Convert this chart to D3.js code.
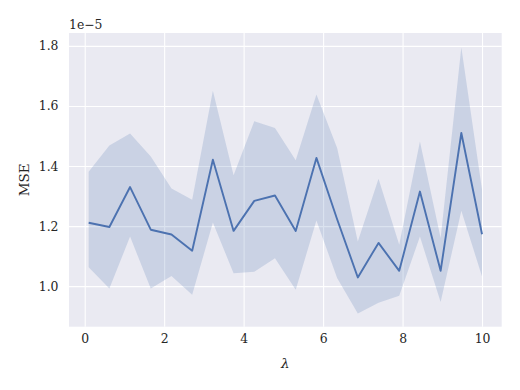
<!DOCTYPE html>
<html>
<head>
<meta charset="utf-8">
<script src="https://cdn.jsdelivr.net/npm/d3@7"></script>
<style>
  body { margin: 0; background: #fff; }
  svg text { font-family: "DejaVu Serif", serif; fill: #262626; }
</style>
</head>
<body>
<div id="chart"></div>
<script>
// lambda values (x) and MSE in units of 1e-5
const lambdas = [0.1, 0.621, 1.142, 1.663, 2.184, 2.705, 3.226, 3.747, 4.268, 4.789,
                 5.311, 5.832, 6.353, 6.874, 7.395, 7.916, 8.437, 8.958, 9.479, 10];
const mse = [1.211, 1.197, 1.330, 1.188, 1.172, 1.118, 1.421, 1.184, 1.284, 1.302,
             1.184, 1.427, 1.223, 1.029, 1.144, 1.051, 1.315, 1.051, 1.510, 1.173];
const upper = [1.381, 1.468, 1.508, 1.432, 1.325, 1.288, 1.651, 1.369, 1.549, 1.527,
               1.419, 1.638, 1.460, 1.149, 1.358, 1.138, 1.482, 1.160, 1.795, 1.321];
const lower = [1.063, 0.992, 1.165, 0.992, 1.034, 0.971, 1.212, 1.043, 1.048, 1.093,
               0.988, 1.219, 1.027, 0.909, 0.945, 0.968, 1.165, 0.947, 1.251, 1.032];
const xTicks = [0, 2, 4, 6, 8, 10];
const yTicks = [1.0, 1.2, 1.4, 1.6, 1.8];

const w = 520, h = 390;
const margin = { left: 69, right: 18.3, top: 33, bottom: 63.3 };
const gw = w - margin.left - margin.right;
const gh = h - margin.top - margin.bottom;

const svg = d3.select("#chart").append("svg")
    .attr("width", w)
    .attr("height", h);

const graph = svg.append("g")
    .attr("transform", `translate(${margin.left},${margin.top})`);

//scales
const x = d3.scaleLinear().domain([-0.395, 10.495]).range([0, gw]);
const y = d3.scaleLinear().domain([0.865, 1.843]).range([gh, 0]);

//background
graph.append("rect")
    .attr("width", gw)
    .attr("height", gh)
    .attr("fill", "#eaeaf2");

//grid lines
graph.append("g")
    .call(d3.axisBottom(x).tickValues(xTicks).tickSize(gh).tickFormat(""))
    .call(g => g.select(".domain").remove())
    .selectAll("line").attr("stroke", "#fff").attr("stroke-width", 1.1);
graph.append("g")
    .call(d3.axisLeft(y).tickValues(yTicks).tickSize(-gw).tickFormat(""))
    .call(g => g.select(".domain").remove())
    .selectAll("line").attr("stroke", "#fff").attr("stroke-width", 1.1);

//axis labels
const xaxis = graph.append("g")
    .attr("transform", `translate(0,${gh})`)
    .call(d3.axisBottom(x).tickValues(xTicks).tickSize(0).tickPadding(8).tickFormat(d3.format("d")));
const yaxis = graph.append("g")
    .call(d3.axisLeft(y).tickValues(yTicks).tickSize(0).tickPadding(10.5).tickFormat(d3.format(".1f")));
[xaxis, yaxis].forEach(g => {
    g.select(".domain").remove();
    g.selectAll("text")
        .attr("font-size", "12.4px")
        .attr("font-family", "DejaVu Serif")
        .attr("fill", "#262626");
});

//confidence band
const rows = lambdas.map((l, i) => ({ l, m: mse[i], lo: lower[i], hi: upper[i] }));
graph.append("path")
    .datum(rows)
    .attr("fill", "#4c72b0")
    .attr("fill-opacity", 0.2)
    .attr("d", d3.area().x(d => x(d.l)).y0(d => y(d.lo)).y1(d => y(d.hi)));

//mean line
graph.append("path")
    .datum(rows)
    .attr("fill", "none")
    .attr("stroke", "#4c72b0")
    .attr("stroke-width", 1.9)
    .attr("stroke-linejoin", "round")
    .attr("d", d3.line().x(d => x(d.l)).y(d => y(d.m)));

//offset text
svg.append("text")
    .text("1e\u22125")
    .attr("x", margin.left)
    .attr("y", 28.5)
    .attr("font-size", "12.4px");

//y label
svg.append("text")
    .text("MSE")
    .attr("transform", `translate(29,${margin.top + gh / 2}) rotate(-90)`)
    .attr("text-anchor", "middle")
    .attr("font-size", "13.5px");

//x label
svg.append("text")
    .text("\u03bb")
    .attr("x", margin.left + gw / 2)
    .attr("y", 368)
    .attr("text-anchor", "middle")
    .attr("font-style", "italic")
    .attr("font-size", "13.5px");
</script>
</body>
</html>
